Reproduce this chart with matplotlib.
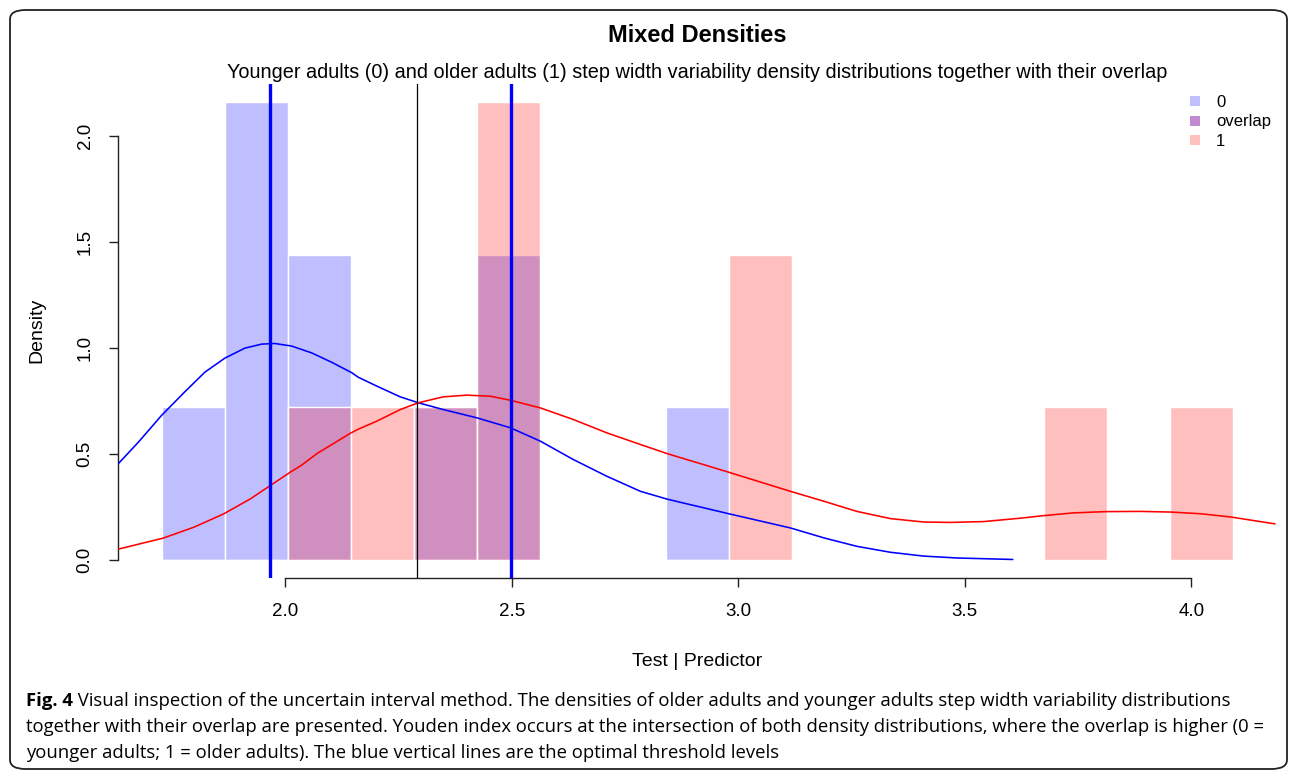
import matplotlib
matplotlib.use("Agg")
import matplotlib.pyplot as plt
from matplotlib.patches import FancyBboxPatch
from matplotlib.lines import Line2D
import numpy as np

# ---------------- data ----------------
bin_edges = [1.729, 1.868, 2.007, 2.146, 2.285, 2.424, 2.563, 2.702, 2.841,
             2.980, 3.119, 3.258, 3.397, 3.536, 3.675, 3.814, 3.953, 4.092]
density_young = [0.72, 2.16, 1.44, 0.0, 0.72, 1.44, 0.0, 0.0, 0.72,
                 0.0, 0.0, 0.0, 0.0, 0.0, 0.0, 0.0, 0.0]
density_old = [0.0, 0.0, 0.72, 0.72, 0.72, 2.16, 0.0, 0.0, 0.0,
               1.44, 0.0, 0.0, 0.0, 0.0, 0.72, 0.0, 0.72]

kde_young_x = [1.631, 1.676, 1.727, 1.779, 1.823, 1.867, 1.911, 1.948, 1.977,
               2.014, 2.058, 2.102, 2.147, 2.161, 2.202, 2.254, 2.294, 2.349,
               2.423, 2.497, 2.563, 2.636, 2.710, 2.784, 2.843, 2.894, 2.916,
               2.979, 3.115, 3.189, 3.262, 3.336, 3.409, 3.483, 3.606]
kde_young_y = [0.452, 0.555, 0.681, 0.794, 0.886, 0.952, 0.999, 1.018, 1.021,
               1.009, 0.977, 0.933, 0.883, 0.862, 0.820, 0.769, 0.741, 0.709,
               0.670, 0.623, 0.560, 0.473, 0.394, 0.323, 0.286, 0.260, 0.249,
               0.217, 0.150, 0.103, 0.063, 0.035, 0.017, 0.008, 0.001]

kde_old_x = [1.632, 1.731, 1.798, 1.864, 1.923, 1.967, 2.011, 2.036, 2.070,
             2.143, 2.161, 2.202, 2.254, 2.294, 2.349, 2.401, 2.453, 2.497,
             2.563, 2.636, 2.710, 2.784, 2.843, 2.894, 2.916, 2.979, 3.115,
             3.189, 3.262, 3.336, 3.409, 3.468, 3.542, 3.623, 3.674, 3.740,
             3.810, 3.887, 3.954, 4.020, 4.086, 4.185]
kde_old_y = [0.050, 0.102, 0.153, 0.216, 0.287, 0.350, 0.413, 0.446, 0.501,
             0.596, 0.616, 0.654, 0.709, 0.741, 0.769, 0.777, 0.772, 0.753,
             0.717, 0.662, 0.599, 0.544, 0.501, 0.468, 0.454, 0.413, 0.323,
             0.276, 0.228, 0.194, 0.178, 0.176, 0.180, 0.196, 0.208, 0.221,
             0.227, 0.228, 0.225, 0.217, 0.202, 0.169]

youden_line = 2.291
threshold_lines = [1.967, 2.499]

x_ticks = [2.0, 2.5, 3.0, 3.5, 4.0]
x_tick_labels = ["2.0", "2.5", "3.0", "3.5", "4.0"]
y_ticks = [0.0, 0.5, 1.0, 1.5, 2.0]
y_tick_labels = ["0.0", "0.5", "1.0", "1.5", "2.0"]
legend_labels = ["0", "overlap", "1"]

title = "Mixed Densities"
subtitle = ("Younger adults (0) and older adults (1) step width variability "
            "density distributions together with their overlap")
x_label = "Test | Predictor"
y_label = "Density"
caption_bold = "Fig. 4"
caption_lines = [
    " Visual inspection of the uncertain interval method. The densities of older adults and younger adults step width variability distributions",
    "together with their overlap are presented. Youden index occurs at the intersection of both density distributions, where the overlap is higher (0 =",
    "younger adults; 1 = older adults). The blue vertical lines are the optimal threshold levels",
]

# ---------------- figure ----------------
W, H = 1290, 772
plt.rcParams["font.family"] = ["Liberation Sans", "DejaVu Sans"]
fig = plt.figure(figsize=(W / 100, H / 100), dpi=100)


def fx(px):
    return px / W


def fy(py):
    return 1 - py / H


# plot region (pixels): x 118..1276, y 84..578
ax = fig.add_axes([fx(118), fy(578), (1276 - 118) / W, (578 - 84) / H])
ax.set_xlim(1.631, 4.187)
ax.set_ylim(-0.0865, 2.2465)

edges = np.array(bin_edges)
lefts = edges[:-1]
widths = np.diff(edges)

blue_fill = (0, 0, 1, 0.25)
red_fill = (1, 0, 0, 0.25)
ax.bar(lefts, density_young, width=widths, align="edge", color=blue_fill,
       edgecolor="white", linewidth=1.0, zorder=1)
ax.bar(lefts, density_old, width=widths, align="edge", color=red_fill,
       edgecolor="white", linewidth=1.0, zorder=2)

ax.plot(kde_young_x, kde_young_y, color="#0000FF", lw=1.15, zorder=3,
        solid_joinstyle="round", solid_capstyle="round")
ax.plot(kde_old_x, kde_old_y, color="#FF0000", lw=1.15, zorder=3,
        solid_joinstyle="round", solid_capstyle="round")

ax.axvline(youden_line, color="black", lw=0.9, zorder=4)
for t in threshold_lines:
    ax.axvline(t, color="#0000FF", lw=2.4, zorder=5)

# axes styling (R base look)
for s in ["top", "right"]:
    ax.spines[s].set_visible(False)
ax.spines["left"].set_bounds(0, 2)
ax.spines["bottom"].set_bounds(2, 4)
for s in ["left", "bottom"]:
    ax.spines[s].set_linewidth(1.0)
    ax.spines[s].set_color("#222222")
ax.set_xticks(x_ticks)
ax.set_xticklabels(x_tick_labels)
ax.set_yticks(y_ticks)
ax.set_yticklabels(y_tick_labels, rotation=90, va="center")
ax.tick_params(axis="both", direction="out", length=6.5, width=1.0,
               color="#222222", labelsize=13.5)
ax.tick_params(axis="x", pad=11.5)
ax.tick_params(axis="y", pad=11)

# legend
handles = [
    Line2D([], [], ls="none", marker="s", markersize=7, markeredgewidth=0,
           markerfacecolor="#BFBFFF"),
    Line2D([], [], ls="none", marker="s", markersize=7, markeredgewidth=0,
           markerfacecolor="#C08AD0"),
    Line2D([], [], ls="none", marker="s", markersize=7, markeredgewidth=0,
           markerfacecolor="#FFBFBF"),
]
fig.legend(handles, legend_labels, loc="upper left",
           bbox_to_anchor=(fx(1187), fy(95)), frameon=False, fontsize=12,
           handlelength=1.0, handletextpad=0.75, labelspacing=0.26,
           borderaxespad=0, borderpad=0)

# titles and axis labels
fig.text(fx(697), fy(36), title, ha="center", va="center", fontsize=17,
         fontweight="bold")
fig.text(fx(697), fy(73), subtitle, ha="center", va="center", fontsize=14.3)
fig.text(fx(697), fy(662), x_label, ha="center", va="center", fontsize=14)
fig.text(fx(37), fy(330), y_label, ha="center", va="center", fontsize=14,
         rotation=90)

# caption
renderer = fig.canvas.get_renderer()
cap_font = ["Open Sans", "DejaVu Sans"]

cap_size = 14.0
fb = fig.text(fx(26), fy(701), caption_bold, ha="left", va="center",
              fontsize=cap_size, fontweight="bold", family=cap_font)
bw = fb.get_window_extent(renderer=renderer).width
l1 = fig.text(fx(26) + bw / W, fy(701), caption_lines[0], ha="left",
              va="center", fontsize=cap_size, family=cap_font)
w1 = l1.get_window_extent(renderer=renderer).width
scale = (1233 - 26) / (bw + w1)
cap_size *= scale
fb.set_fontsize(cap_size)
bw = fb.get_window_extent(renderer=renderer).width
l1.set_fontsize(cap_size)
l1.set_x(fx(26) + bw / W)
fig.text(fx(26), fy(727), caption_lines[1], ha="left", va="center",
         fontsize=cap_size, family=cap_font)
fig.text(fx(26), fy(753), caption_lines[2], ha="left", va="center",
         fontsize=cap_size, family=cap_font)

# outer rounded frame
frame = FancyBboxPatch((fx(10), fy(769)), fx(1287) - fx(10), fy(10) - fy(769),
                       boxstyle="round,pad=0,rounding_size=0.012",
                       transform=fig.transFigure, fill=False,
                       edgecolor="#222222", linewidth=1.3, zorder=10)
fig.patches.append(frame)

fig.savefig("out.png", dpi=100)
